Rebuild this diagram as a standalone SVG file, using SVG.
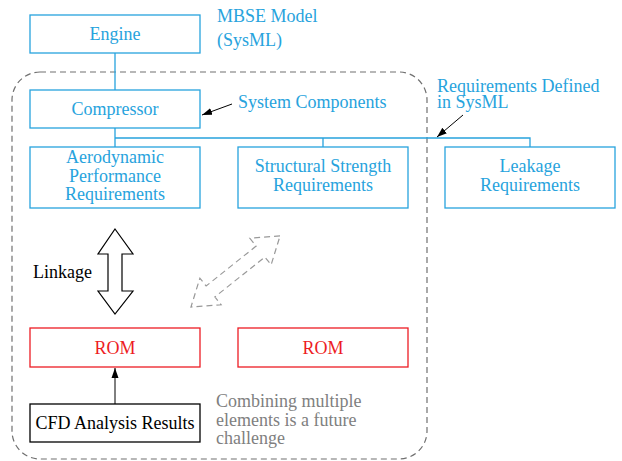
<svg xmlns="http://www.w3.org/2000/svg" width="622" height="461" viewBox="0 0 622 461">
<defs>
<style>
text{font-family:"Liberation Serif","Times New Roman",serif;font-size:18px}
.b{fill:#27a3dd}
.bx{fill:#fff;stroke:#27a3dd;stroke-width:1.3}
.rb{fill:#fff;stroke:#ed1c24;stroke-width:1.3}
.r{fill:#ed1c24}
.k{fill:#000}
.g{fill:#808080}
.c{text-anchor:middle}
.bl{stroke:#27a3dd;stroke-width:1.3;fill:none}
.ar{stroke:#000;stroke-width:1;fill:none}
</style>
<marker id="ah" viewBox="0 0 10 10" refX="10" refY="5" markerWidth="10" markerHeight="10" markerUnits="userSpaceOnUse" orient="auto">
<path d="M0,1.5 L10,5 L0,8.5 Z" fill="#000"/>
</marker>
</defs>
<rect x="0" y="0" width="622" height="461" fill="#fff"/>
<rect id="boundary" x="12" y="72" width="415" height="387" rx="28" ry="28" fill="none" stroke="#707070" stroke-width="1.2" stroke-dasharray="6,4"/>
<g id="connectors">
<path class="bl" d="M115,53 V90 M115,128 V147 M115,138 H530 V147 M323,138 V147"/>
<line class="ar" x1="232" y1="104" x2="202" y2="115" marker-end="url(#ah)"/>
<line class="ar" x1="463" y1="115" x2="437" y2="137" marker-end="url(#ah)"/>
<line class="ar" x1="115" y1="404" x2="115" y2="368" marker-end="url(#ah)"/>
<polygon points="115,229 133,254 122,254 122,291 133,291 115,314 98,291 108,291 108,254 98,254" fill="#fff" stroke="#000" stroke-width="1.2"/>
<polygon transform="translate(235.5,271.5) rotate(-38.6)" points="57,0 32,-17 32,-7 -32,-7 -32,-17 -57,0 -32,17 -32,7 32,7 32,17" fill="none" stroke="#999" stroke-width="1.2" stroke-dasharray="6,4"/>
</g>
<g id="engine"><rect class="bx" x="30" y="15" width="170" height="38"/><text class="b c" x="115" y="40">Engine</text></g>
<g id="mbse"><text class="b" x="217" y="22">MBSE Model</text><text class="b" x="217" y="46">(SysML)</text></g>
<g id="compressor"><rect class="bx" x="30" y="90" width="170" height="38"/><text class="b c" x="115" y="115">Compressor</text></g>
<g id="syscomp"><text class="b" x="238" y="108">System Components</text></g>
<g id="reqdef"><text class="b" x="437" y="92">Requirements Defined</text><text class="b" x="437" y="108">in SysML</text></g>
<g id="aero"><rect class="bx" x="30" y="147" width="170" height="61"/><text class="b c" x="115" y="163">Aerodynamic</text><text class="b c" x="115" y="182">Performance</text><text class="b c" x="115" y="200">Requirements</text></g>
<g id="struct"><rect class="bx" x="238" y="147" width="170" height="61"/><text class="b c" x="323" y="172">Structural Strength</text><text class="b c" x="323" y="191">Requirements</text></g>
<g id="leak"><rect class="bx" x="445" y="147" width="170" height="61"/><text class="b c" x="530" y="172">Leakage</text><text class="b c" x="530" y="191">Requirements</text></g>
<g id="linkage"><text class="k" x="33" y="278">Linkage</text></g>
<g id="rom1"><rect class="rb" x="30" y="328" width="170" height="39"/><text class="r c" x="115" y="354">ROM</text></g>
<g id="rom2"><rect class="rb" x="238" y="328" width="170" height="39"/><text class="r c" x="323" y="354">ROM</text></g>
<g id="cfd"><rect x="30" y="404" width="170" height="38" fill="#fff" stroke="#000" stroke-width="1.3"/><text class="k c" x="115" y="429">CFD Analysis Results</text></g>
<g id="future"><text class="g" x="216" y="407">Combining multiple</text><text class="g" x="216" y="426">elements is a future</text><text class="g" x="216" y="444">challenge</text></g>
</svg>
